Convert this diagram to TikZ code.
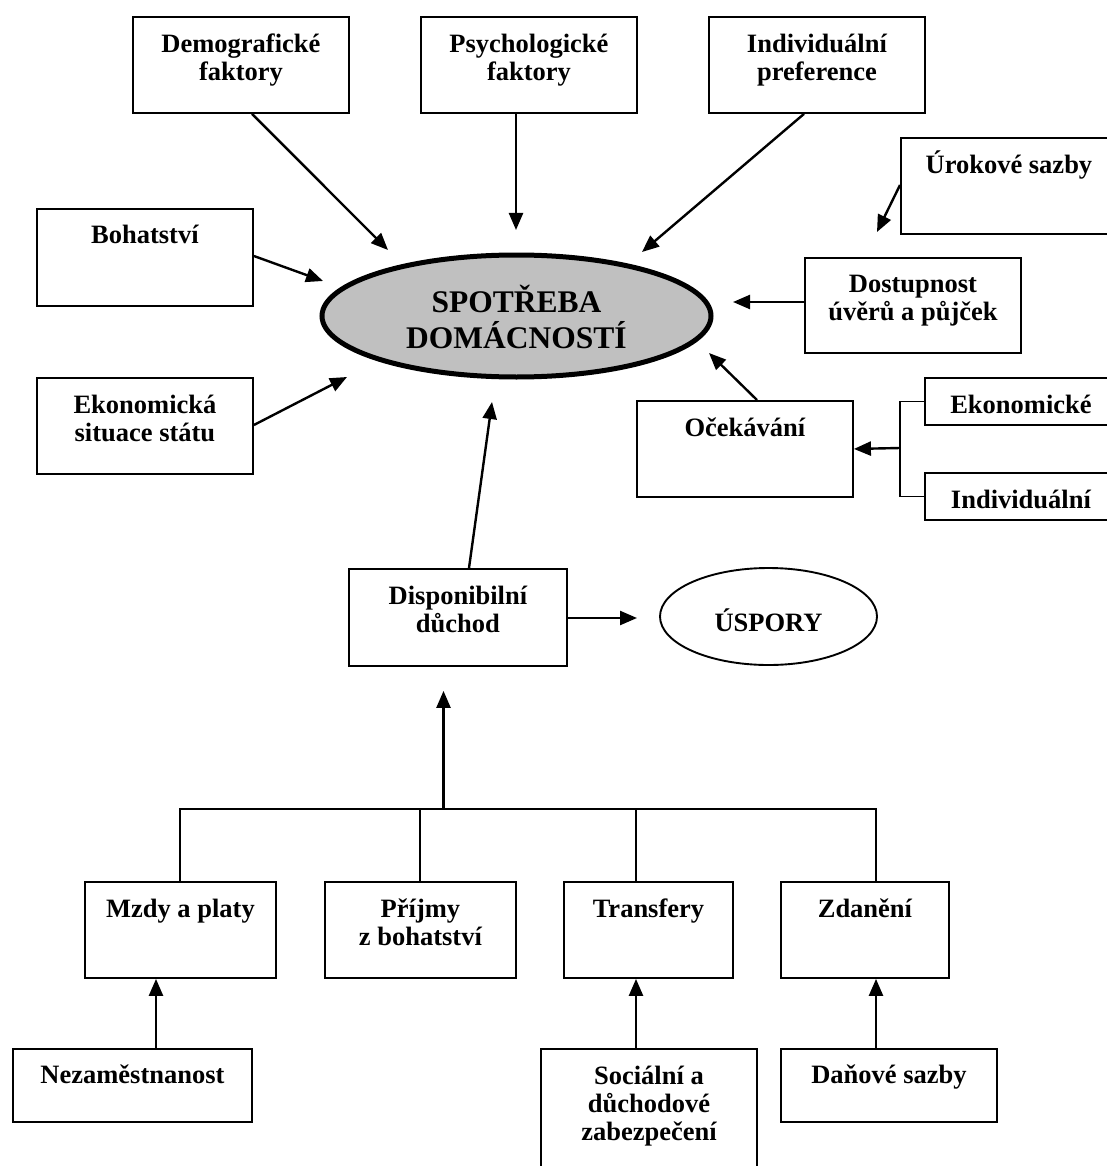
\documentclass[tikz,border=0pt]{standalone}
\usepackage{fontspec}
\setmainfont{Liberation Serif}
\usetikzlibrary{arrows.meta,positioning,shapes.geometric,calc}
\definecolor{spotgray}{RGB}{192,192,192}
\newcommand{\tstrut}{\rule{0pt}{24pt}}
\begin{document}
\begin{tikzpicture}[x=1pt,y=-1pt,
  box/.style={draw, line width=1.9pt, inner sep=0pt, anchor=north west},
  lbl/.style={font=\bfseries\fontsize{26.5}{28}\selectfont, align=center, inner sep=0pt},
  arr/.style={line width=2.4pt, -{Triangle[length=17pt,width=14pt]}},
  bar/.style={line width=2pt}]
\useasboundingbox (0,0) rectangle (1107,1166);

% boxes
\node[box, minimum width=216pt, minimum height=96pt] (demo) at (132,16) {};
\node[box, minimum width=216pt, minimum height=96pt] (psych) at (420,16) {};
\node[box, minimum width=216pt, minimum height=96pt] (indiv) at (708,16) {};
\node[box, minimum width=216pt, minimum height=96pt] (urok) at (900,137) {};
\node[box, minimum width=216pt, minimum height=97pt] (boh) at (36,208) {};
\node[box, minimum width=216pt, minimum height=95pt] (dost) at (804,257) {};
\node[box, minimum width=216pt, minimum height=96pt] (eko) at (36,377) {};
\node[box, minimum width=216pt, minimum height=96pt] (oce) at (636,400) {};
\node[box, minimum width=192pt, minimum height=47pt] (ekm) at (924,377) {};
\node[box, minimum width=192pt, minimum height=47pt] (ind2) at (924,472) {};
\node[box, minimum width=218pt, minimum height=97pt] (disp) at (348,568) {};
\node[box, minimum width=191pt, minimum height=96pt] (mzdy) at (84,881) {};
\node[box, minimum width=191pt, minimum height=96pt] (prij) at (324,881) {};
\node[box, minimum width=169pt, minimum height=96pt] (trans) at (563,881) {};
\node[box, minimum width=168pt, minimum height=96pt] (zdan) at (780,881) {};
\node[box, minimum width=239pt, minimum height=73pt] (nez) at (12,1048) {};
\node[box, minimum width=216pt, minimum height=130pt] (soc) at (540,1048) {};
\node[box, minimum width=216pt, minimum height=73pt] (dan) at (780,1048) {};

% texts
\node[lbl, below=12pt of demo.north] (demoT) {\tstrut Demografické\\faktory};
\node[lbl, below=12pt of psych.north] (psychT) {\tstrut Psychologické\\faktory};
\node[lbl, below=12pt of indiv.north] (indivT) {\tstrut Individuální\\preference};
\node[lbl, below=12pt of urok.north] (urokT) {\tstrut Úrokové sazby};
\node[lbl, below=11pt of boh.north] (bohT) {\tstrut Bohatství};
\node[lbl, below=11pt of dost.north] (dostT) {\tstrut Dostupnost\\úvěrů a půjček};
\node[lbl, below=12pt of eko.north] (ekoT) {\tstrut Ekonomická\\situace státu};
\node[lbl, below=12pt of oce.north] (oceT) {\tstrut Očekávání};
\node[lbl, below=12pt of ekm.north] (ekmT) {\tstrut Ekonomické};
\node[lbl, below=12pt of ind2.north] (ind2T) {\tstrut Individuální};
\node[lbl, below=12pt of disp.north] (dispT) {\tstrut Disponibilní\\důchod};
\node[lbl, below=12pt of mzdy.north] (mzdyT) {\tstrut Mzdy a platy};
\node[lbl, below=12pt of prij.north] (prijT) {\tstrut Příjmy\\z bohatství};
\node[lbl, below=12pt of trans.north] (transT) {\tstrut Transfery};
\node[lbl, below=12pt of zdan.north] (zdanT) {\tstrut Zdanění};
\node[lbl, below=11pt of nez.north] (nezT) {\tstrut Nezaměstnanost};
\node[lbl, below=12pt of soc.north] (socT) {\tstrut Sociální a\\důchodové\\zabezpečení};
\node[lbl, below=11pt of dan.north] (danT) {\tstrut Daňové sazby};

% ellipses
\node[draw, ellipse, line width=5pt, fill=spotgray, minimum width=389pt, minimum height=122pt, inner sep=0pt] (spot) at (516.5,316) {};
\node[font=\bfseries\fontsize{31.5}{36}\selectfont, align=center, inner sep=0pt, anchor=north] (spotT) at (516.5,282) {\rule{0pt}{30pt}SPOTŘEBA\\DOMÁCNOSTÍ};
\node[draw, ellipse, line width=1.9pt, minimum width=217pt, minimum height=97pt, inner sep=0pt] (usp) at (768.5,616.5) {};
\node[lbl, anchor=base] (uspT) at (768.5,631) {ÚSPORY};

% arrow tips (free ends)
\coordinate (t1) at (388,250);
\coordinate (t2) at (516,230);
\coordinate (t3) at (642,252);
\coordinate (t4) at (877,232);
\coordinate (t5) at (323,281);
\coordinate (t6) at (733,302);
\coordinate (t7) at (347,377);
\coordinate (t8) at (709,353);
\coordinate (t10) at (492,402);
\coordinate (t11) at (637,618);
\coordinate (br) at (900,448);
\coordinate (bj) at (443.5,809);

% arrows into consumption
\draw[arr] ($(demo.south west)+(120,0)$) -- (t1);
\draw[arr] ($(psych.south west)+(96,0)$) -- (t2);
\draw[arr] ($(indiv.south west)+(96,0)$) -- (t3);
\draw[arr] ($(urok.north west)+(0,48)$) -- (t4);
\draw[arr] ($(boh.north east)+(0,48)$) -- (t5);
\draw[arr] ($(dost.north west)+(0,45)$) -- (t6);
\draw[arr] ($(eko.north east)+(0,48)$) -- (t7);
\draw[arr] ($(oce.north west)+(121,0)$) -- (t8);

% expectations bracket
\draw[line width=1.9pt] (ekm.west) -- ++(-24,0) |- (ind2.west);
\draw[arr] (br) -- (oce.east);

% disposable income
\draw[arr] ($(disp.north west)+(121,0)$) -- (t10);
\draw[arr] ($(disp.north east)+(0,50)$) -- (t11);
\draw[arr] (bj) -- ($(disp.south west)+(95.5,24)$);

% bottom bar
\draw[bar] (mzdy.north) -- ++(0,-72) -| ($(zdan.north west)+(96,0)$);
\draw[bar] (prij.north) -- ++(0,-72);
\draw[bar] ($(trans.north west)+(73,0)$) -- ++(0,-72);

% bottom arrows
\draw[arr] ($(nez.north west)+(144,0)$) -- ($(mzdy.south west)+(72,0)$);
\draw[arr] ($(soc.north west)+(96,0)$) -- ($(trans.south west)+(73,0)$);
\draw[arr] ($(dan.north west)+(96,0)$) -- ($(zdan.south west)+(96,0)$);
\end{tikzpicture}
\end{document}
